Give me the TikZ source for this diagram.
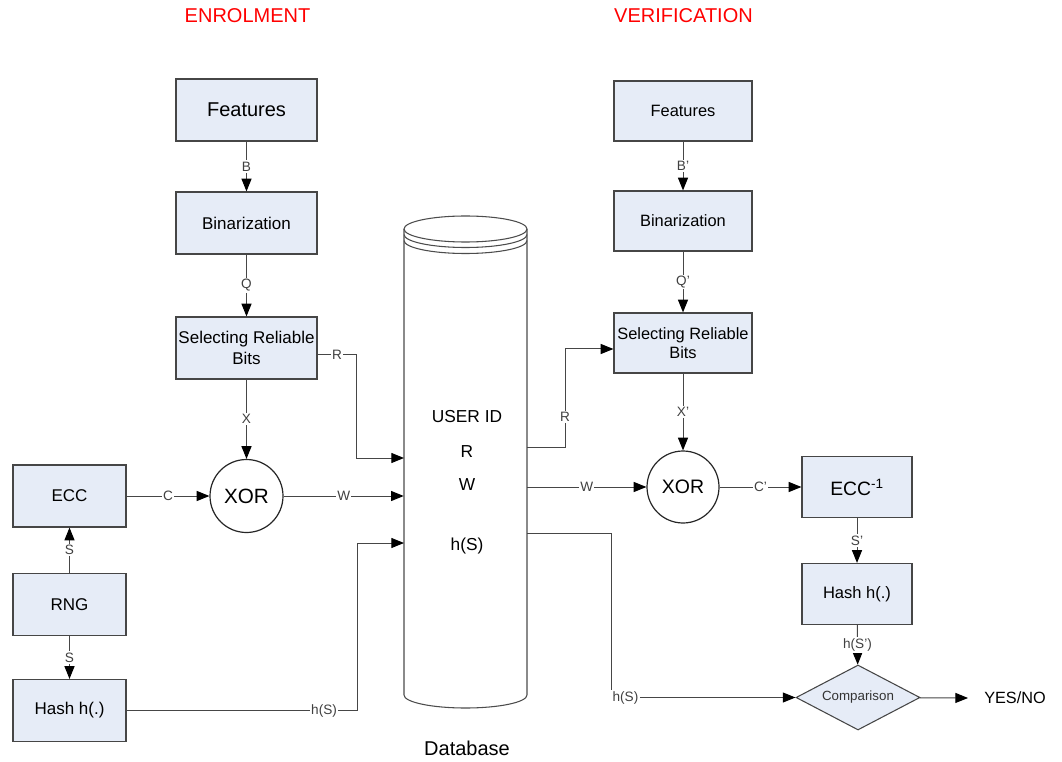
\documentclass[tikz,border=0pt]{standalone}
\usepackage{fontspec}
\setmainfont{Liberation Sans}
\usetikzlibrary{shapes.geometric,arrows.meta,calc}
\definecolor{boxfill}{RGB}{230,236,247}
\definecolor{linegray}{RGB}{70,70,70}
\newcommand{\fz}[1]{\fontsize{#1pt}{1.2\dimexpr #1pt\relax}\selectfont}
\begin{document}
\begin{tikzpicture}[x=0.75pt,y=-0.75pt,
  box/.style={draw=linegray, line width=0.9pt, fill=boxfill, inner sep=0pt, align=center},
  bigbox/.style={box, minimum width=105.75pt, minimum height=46.5pt},
  smallbox/.style={box, minimum width=84.75pt, minimum height=46.5pt},
  rbox/.style={box, minimum width=103.5pt, minimum height=45pt},
  ibox/.style={box, minimum width=82.5pt, minimum height=45.75pt},
  xorc/.style={circle, draw=black!85, line width=0.9pt, fill=white, inner sep=0pt, minimum size=54.75pt},
  arr/.style={draw=linegray, line width=0.75pt, -{Triangle[length=9.5pt,width=7.5pt,color=black]}},
  conn/.style={draw=linegray, line width=0.75pt},
  lbl/.style={fill=white, inner sep=1pt, font=\fz{10.2}, text=black!75},
  dbline/.style={draw=black!70, line width=0.8pt}
]
\useasboundingbox (0,0) rectangle (1062,762);

% titles
\node[text=red, font=\fz{15}] (t1) at (247.5,16) {ENROLMENT};
\node[text=red, font=\fz{15}] (t2) at (683.5,16) {VERIFICATION};

% ---------- enrolment ----------
\node[bigbox, font=\fz{15}] (featL) at (246.5,110) {Features};
\node[bigbox, font=\fz{12.75}] (binL) at (246.5,223) {Binarization};
\node[bigbox, font=\fz{12.75}] (selL) at (246.5,348) {Selecting Reliable\\Bits};
\node[xorc, font=\fz{15.5}] (xorL) at (246.5,496) {XOR};
\node[smallbox, font=\fz{12.75}] (eccL) at (69.5,496) {ECC};
\node[smallbox, font=\fz{12.75}] (rngL) at (69.5,604.5) {RNG};
\node[smallbox, font=\fz{12.75}] (hashL) at (69.5,710.5) {Hash h(.)};

% ---------- database ----------
\node[inner sep=0pt, minimum width=92.25pt, minimum height=349.5pt] (db) at (465.5,462) {};
\draw[dbline, fill=white] (404,229) -- (404,695) arc[start angle=180,end angle=360,x radius=46.125pt,y radius=9.75pt] -- (527,229);
\draw[dbline] (465.5,229) ellipse [x radius=46.125pt, y radius=9.75pt];
\draw[dbline] (404,234.5) arc[start angle=180,end angle=360,x radius=46.125pt,y radius=9.75pt];
\draw[dbline] (404,240.5) arc[start angle=180,end angle=360,x radius=46.125pt,y radius=9.75pt];
\node[font=\fz{13}] (uid) at (467,417) {USER ID};
\node[font=\fz{13}] (dbr) at (467,452) {R};
\node[font=\fz{13}] (dbw) at (467,485) {W};
\node[font=\fz{13}] (dbh) at (467,546) {h(S)};
\node[font=\fz{15}] (dblabel) at (467,748) {Database};

\coordinate (dbL1) at (404,458);
\coordinate (dbL3) at (404,543);
\coordinate (dbR1) at (527,447);
\coordinate (dbR2) at (527,487);
\coordinate (dbR3) at (527,533);

% ---------- verification ----------
\node[rbox, font=\fz{12.3}] (featR) at (683,111) {Features};
\node[rbox, font=\fz{12.3}] (binR) at (683,221) {Binarization};
\node[rbox, font=\fz{12.3}] (selR) at (683,343) {Selecting Reliable\\Bits};
\node[xorc, minimum size=54pt, font=\fz{14.6}] (xorR) at (683,487) {XOR};
\node[ibox, font=\fz{14.5}] (eccInv) at (857,487) {ECC\textsuperscript{-1}};
\node[ibox, font=\fz{12.4}] (hashR) at (857,594) {Hash h(.)};
\node[diamond, draw=linegray, line width=0.8pt, fill=boxfill, inner sep=0pt, aspect=1.9,
      minimum width=93pt, minimum height=48.75pt, font=\fz{10}, text=black!80] (cmp) at (858,697.5) {Comparison};
\node[anchor=west, inner sep=0pt, font=\fz{12.2}] (yn) at (984,698) {YES/NO};

% ---------- enrolment connectors ----------
\draw[arr] (featL) -- node[lbl]{B} (binL);
\draw[arr] (binL) -- node[lbl]{Q} (selL);
\draw[arr] (selL) -- node[lbl]{X} (xorL);
\draw[arr] (eccL) -- node[lbl]{C} (xorL);
\draw[arr] (rngL) -- node[lbl]{S} (eccL);
\draw[arr] (rngL) -- node[lbl]{S} (hashL);
\draw[arr] (xorL) -- node[lbl]{W} (xorL -| db.west);
\draw[arr] ($(selL.east)+(0,7)$) -- node[lbl]{R} ++(39,0) |- (dbL1);
\draw[arr] (hashL.east) -- node[lbl,pos=0.857]{h(S)} (357,710.5) |- (dbL3);

% ---------- verification connectors ----------
\draw[arr] (featR) -- node[lbl]{B’} (binR);
\draw[arr] (binR) -- node[lbl]{Q’} (selR);
\draw[arr] (selR) -- node[lbl]{X’} (xorR);
\draw[arr] (dbR1) -- (565,447) -- node[lbl,pos=0.306]{R} (565,349) -- ($(selR.west)+(0,6)$);
\draw[arr] (dbR2) -- node[lbl]{W} (xorR);
\draw[arr] (xorR) -- node[lbl]{C’} (eccInv);
\draw[arr] (eccInv) -- node[lbl]{S’} (hashR);
\draw[arr] (hashR) -- node[lbl]{h(S’)} (cmp);
\node[lbl, anchor=west] (hsR) at (611,697.5) {h(S)};
\draw[conn] (dbR3) -| (hsR.north west);
\draw[arr] (hsR) -- (cmp);
\draw[arr] (cmp) -- ($(yn.west)+(-16,0)$);
\end{tikzpicture}
\end{document}
